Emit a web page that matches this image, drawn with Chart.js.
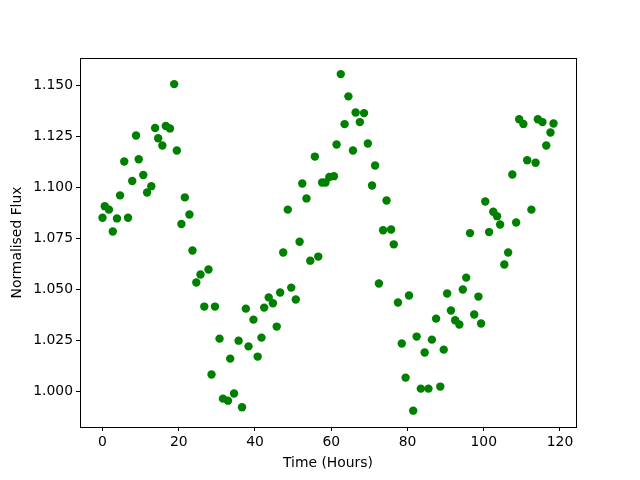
<!DOCTYPE html>
<html>
<head>
<meta charset="utf-8">
<script src="https://cdn.jsdelivr.net/npm/chart.js@4/dist/chart.umd.min.js"></script>
<style>
  html, body { margin: 0; padding: 0; background: #fff; }
  #wrap { width: 640px; height: 480px; }
</style>
</head>
<body>
<div id="wrap"><canvas id="fluxChart" width="640" height="480"></canvas></div>
<script>
// Time (hours) and normalised flux
const timeHours = [
    0, 0.6, 1.7, 2.7, 3.8, 4.6, 5.7, 6.7, 7.8, 8.8,
    9.5, 10.7, 11.7, 12.8, 13.8, 14.6, 15.7, 16.6, 17.7, 18.8,
    19.5, 20.7, 21.6, 22.8, 23.6, 24.6, 25.7, 26.7, 27.8, 28.6,
    29.5, 30.7, 31.6, 32.9, 33.5, 34.5, 35.7, 36.6, 37.6, 38.3,
    39.6, 40.7, 41.7, 42.4, 43.6, 44.7, 45.7, 46.6, 47.4, 48.6,
    49.5, 50.7, 51.7, 52.4, 53.5, 54.5, 55.7, 56.6, 57.6, 58.5,
    59.5, 60.7, 61.4, 62.5, 63.5, 64.5, 65.7, 66.4, 67.5, 68.6,
    69.6, 70.7, 71.5, 72.5, 73.6, 74.5, 75.7, 76.4, 77.5, 78.5,
    79.5, 80.4, 81.5, 82.4, 83.5, 84.5, 85.5, 86.4, 87.5, 88.6,
    89.5, 90.4, 91.4, 92.5, 93.6, 94.5, 95.4, 96.4, 97.5, 98.6,
    99.3, 100.4, 101.4, 102.5, 103.5, 104.3, 105.4, 106.4, 107.5, 108.5,
    109.3, 110.4, 111.4, 112.5, 113.6, 114.2, 115.4, 116.4, 117.5, 118.3
];
const flux = [
    1.0850, 1.0907, 1.0890, 1.0783, 1.0847, 1.0960, 1.1126, 1.0850, 1.1030, 1.1253,
    1.1137, 1.1060, 1.0974, 1.1005, 1.1290, 1.1240, 1.1204, 1.1300, 1.1288, 1.1505,
    1.1180, 1.0820, 1.0950, 1.0866, 1.0690, 1.0533, 1.0572, 1.0415, 1.0597, 1.0082,
    1.0415, 1.0258, 0.9964, 0.9954, 1.0160, 0.9989, 1.0248, 0.9922, 1.0405, 1.0220,
    1.0351, 1.0170, 1.0263, 1.0410, 1.0460, 1.0431, 1.0317, 1.0484, 1.0680, 1.0890,
    1.0508, 1.0450, 1.0733, 1.1018, 1.0945, 1.0640, 1.1150, 1.0660, 1.1023, 1.1023,
    1.1050, 1.1054, 1.1209, 1.1554, 1.1309, 1.1445, 1.1180, 1.1366, 1.1319, 1.1363,
    1.1214, 1.1008, 1.1106, 1.0528, 1.0789, 1.0935, 1.0793, 1.0720, 1.0435, 1.0234,
    1.0067, 1.0469, 0.9905, 1.0268, 1.0013, 1.0190, 1.0013, 1.0253, 1.0356, 1.0023,
    1.0204, 1.0479, 1.0396, 1.0348, 1.0327, 1.0499, 1.0557, 1.0775, 1.0376, 1.0464,
    1.0332, 1.0930, 1.0780, 1.0880, 1.0858, 1.0817, 1.0621, 1.0680, 1.1062, 1.0827,
    1.1333, 1.1310, 1.1132, 1.0890, 1.1120, 1.1333, 1.1319, 1.1204, 1.1268, 1.1312
];
const xTicks = [0, 20, 40, 60, 80, 100, 120];
const yTicks = [1.000, 1.025, 1.050, 1.075, 1.100, 1.125, 1.150];

Chart.defaults.font.family = "'DejaVu Sans', sans-serif";
Chart.defaults.font.size = 13.9;
Chart.defaults.color = '#000';

// matplotlib style full frame around the plot area
const framePlugin = {
    id: 'frame',
    afterDraw(chart) {
        const a = chart.chartArea;
        const ctx = chart.ctx;
        ctx.save();
        ctx.strokeStyle = '#000';
        ctx.lineWidth = 1;
        ctx.strokeRect(Math.round(a.left) + 0.5, Math.round(a.top) + 0.5,
            Math.round(a.right - a.left), Math.round(a.bottom - a.top));
        ctx.restore();
    }
};

const ctx = document.getElementById('fluxChart').getContext('2d');
new Chart(ctx, {
    type: 'scatter',
    data: {
        datasets: [{
            label: 'Flux',
            data: timeHours.map((t, i) => ({ x: t, y: flux[i] })),
            backgroundColor: '#008000',
            borderWidth: 0,
            pointRadius: 4.2,
            pointHoverRadius: 4.2
        }]
    },
    options: {
        responsive: false,
        animation: false,
        layout: { padding: { left: 0, top: 58, right: 64, bottom: 0 } },
        plugins: {
            legend: { display: false },
            tooltip: { enabled: false }
        },
        scales: {
            x: {
                type: 'linear',
                min: -5.9,
                max: 124.2,
                afterBuildTicks: axis => { axis.ticks = xTicks.map(v => ({ value: v })); },
                afterFit: axis => { axis.height = 53; },
                grid: { display: true, drawOnChartArea: false, drawTicks: true, tickLength: 4, color: '#000' },
                border: { display: false },
                ticks: { padding: 3, maxRotation: 0 },
                title: { display: true, text: 'Time (Hours)', padding: { top: 0, bottom: 8 } }
            },
            y: {
                type: 'linear',
                min: 0.9825,
                max: 1.1633,
                afterBuildTicks: axis => { axis.ticks = yTicks.map(v => ({ value: v })); },
                afterFit: axis => { axis.width = 80; },
                grid: { display: true, drawOnChartArea: false, drawTicks: true, tickLength: 4, color: '#000' },
                border: { display: false },
                ticks: { padding: 3, callback: v => v.toFixed(3) },
                title: { display: true, text: 'Normalised Flux', padding: { top: 9, bottom: 0 } }
            }
        }
    },
    plugins: [framePlugin]
});
</script>
</body>
</html>
